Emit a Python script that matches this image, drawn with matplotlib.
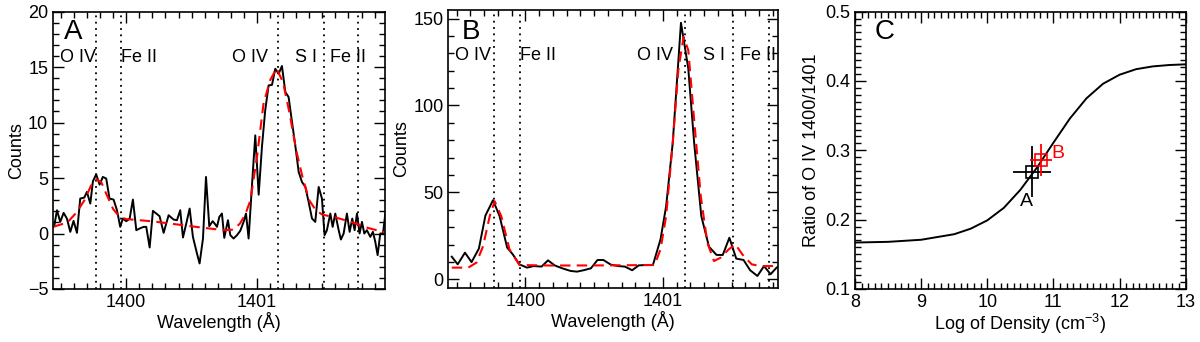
import matplotlib
matplotlib.use("Agg")
import matplotlib.pyplot as plt
import matplotlib.transforms as mtransforms
from matplotlib.ticker import MultipleLocator

plt.rcParams['font.family'] = ['Liberation Sans', 'DejaVu Sans']
plt.rcParams['font.size'] = 13
plt.rcParams['mathtext.fontset'] = 'custom'
plt.rcParams['mathtext.rm'] = 'Liberation Sans'

# Panel A: observed spectrum (black) and fit (red dashed)
wl_a = [1399.449, 1399.470, 1399.495, 1399.521, 1399.546, 1399.572, 1399.597, 1399.623,
        1399.648, 1399.679, 1399.699, 1399.725, 1399.745, 1399.770, 1399.796, 1399.821,
        1399.847, 1399.872, 1399.903, 1399.929, 1399.954, 1399.974, 1400.000, 1400.026,
        1400.051, 1400.077, 1400.102, 1400.133, 1400.153, 1400.179, 1400.204, 1400.230,
        1400.255, 1400.286, 1400.324, 1400.362, 1400.388, 1400.413, 1400.434, 1400.459,
        1400.485, 1400.510, 1400.541, 1400.561, 1400.587, 1400.610, 1400.635, 1400.661,
        1400.676, 1400.694, 1400.712, 1400.732, 1400.750, 1400.778, 1400.796, 1400.821,
        1400.847, 1400.872, 1400.898, 1400.916, 1400.936, 1400.961, 1400.987, 1401.013,
        1401.038, 1401.063, 1401.089, 1401.115, 1401.140, 1401.166, 1401.191, 1401.217,
        1401.242, 1401.268, 1401.293, 1401.319, 1401.344, 1401.370, 1401.395, 1401.421,
        1401.446, 1401.472, 1401.497, 1401.517, 1401.535, 1401.561, 1401.579, 1401.599,
        1401.625, 1401.642, 1401.663, 1401.688, 1401.709, 1401.729, 1401.747, 1401.765,
        1401.785, 1401.803, 1401.821, 1401.841, 1401.867, 1401.887, 1401.905, 1401.923,
        1401.943, 1401.964, 1401.982]
counts_a = [0.66, 2.10, 1.05, 1.86, 1.35, 0.15, 1.14, 0.06,
            3.15, 3.24, 3.75, 2.70, 4.71, 5.34, 4.41, 5.10,
            4.95, 3.15, 3.06, 2.10, 0.60, 1.35, 1.11, 1.35,
            3.06, 0.30, 0.45, 0.60, 0.60, -1.26, 2.04, 1.80,
            1.56, 0.06, 1.65, 1.26, 1.20, 2.10, -0.36, 0.90,
            2.25, -0.30, -1.80, -2.70, -0.45, 5.10, 0.66, 1.11,
            0.90, 0.60, 1.50, 1.80, -0.39, 1.20, -0.15, -0.45,
            -0.15, 0.24, 1.05, 1.80, -0.45, 4.20, 8.85, 3.50,
            7.80, 11.10, 13.35, 13.40, 14.85, 14.40, 15.10, 12.75,
            12.30, 10.05, 7.95, 5.55, 4.65, 4.20, 2.85, 1.35,
            1.05, 4.20, 3.15, -0.15, 0.30, 1.80, 0.60, 1.80,
            0.30, -0.54, 0.00, 1.80, 0.15, 1.35, 0.30, 1.80,
            0.00, 1.05, 0.00, 0.30, -0.30, 0.15, -0.75, -1.95,
            0.00, 0.00, 1.80]
fit_wl_a = [1399.44, 1399.55, 1399.62, 1399.68, 1399.73, 1399.77, 1399.81, 1399.85,
            1399.90, 1399.95, 1400.00, 1400.20, 1400.40, 1400.60, 1400.75, 1400.82,
            1400.87, 1400.91, 1400.95, 1401.00, 1401.05, 1401.10, 1401.15, 1401.20,
            1401.25, 1401.30, 1401.35, 1401.40, 1401.45, 1401.50, 1401.60, 1401.72,
            1401.85, 1401.98]
fit_a = [0.6, 1.0, 1.9, 3.0, 4.3, 4.9, 4.6, 3.5,
         2.2, 1.5, 1.3, 1.1, 0.8, 0.5, 0.3, 0.35,
         0.9, 1.7, 3.0, 6.9, 11.7, 13.8, 14.9, 13.6,
         10.8, 7.5, 5.0, 3.0, 2.1, 1.7, 1.45, 1.05,
         0.5, 0.1]

# Panel B: binned spectrum and fit
wl_b = [1399.465, 1399.508, 1399.561, 1399.609, 1399.662, 1399.710, 1399.765, 1399.813,
        1399.868, 1399.909, 1399.957, 1400.012, 1400.060, 1400.118, 1400.165, 1400.213,
        1400.269, 1400.329, 1400.376, 1400.424, 1400.477, 1400.525, 1400.568, 1400.622,
        1400.676, 1400.724, 1400.777, 1400.825, 1400.873, 1400.928, 1400.983, 1401.024,
        1401.072, 1401.132, 1401.185, 1401.228, 1401.280, 1401.336, 1401.391, 1401.436,
        1401.484, 1401.534, 1401.587, 1401.635, 1401.688, 1401.736, 1401.784, 1401.827,
        1401.845]
counts_b = [13.0, 8.6, 15.3, 9.9, 17.6, 36.7, 45.5, 36.3,
            18.2, 14.3, 8.6, 6.7, 7.6, 7.3, 10.9, 8.0,
            6.3, 4.8, 4.4, 5.2, 6.3, 11.1, 11.1, 8.4,
            7.6, 7.3, 5.2, 8.0, 8.2, 8.2, 22.9, 42.0,
            78.4, 147.6, 121.4, 78.4, 36.3, 18.7, 14.0, 14.0,
            23.9, 11.9, 11.1, 5.2, 1.9, 7.6, 2.9, 6.7,
            7.5]
fit_wl_b = [1399.465, 1399.585, 1399.645, 1399.693, 1399.741, 1399.777, 1399.825, 1399.885,
            1399.957, 1400.200, 1400.600, 1400.940, 1400.983, 1401.024, 1401.072, 1401.113,
            1401.151, 1401.185, 1401.228, 1401.276, 1401.324, 1401.372, 1401.420, 1401.479,
            1401.527, 1401.587, 1401.647, 1401.707, 1401.845]
fit_b = [6.7, 6.7, 9.6, 19.1, 36.3, 44.9, 36.3, 17.2,
         8.2, 7.9, 8.0, 8.2, 17.2, 36.3, 78.4, 120.5,
         139.5, 131.9, 91.7, 47.8, 21.0, 10.5, 12.4, 17.2,
         20.1, 13.4, 8.6, 7.6, 7.6]

# line identifications
line_wl = [1399.77, 1399.96, 1401.16, 1401.51, 1401.77]
line_names = ["O IV", "Fe II", "O IV", "S I", "Fe II"]
name_x = [1399.49, 1399.96, 1400.81, 1401.29, 1401.56]

# Panel C: theoretical ratio vs density
log_n = [8.0, 8.5, 9.0, 9.5, 9.75, 10.0, 10.25, 10.5, 10.75, 11.0, 11.25,
         11.5, 11.75, 12.0, 12.25, 12.5, 12.75, 13.0]
ratio = [0.167, 0.168, 0.171, 0.179, 0.187, 0.199, 0.217, 0.243, 0.275, 0.311, 0.346,
         0.375, 0.396, 0.409, 0.417, 0.421, 0.423, 0.424]
obs_n = [10.68, 10.81]
obs_ratio = [0.269, 0.286]
obs_nerr = [0.29, 0.17]
obs_rerr = [0.037, 0.023]
obs_names = ["A", "B"]
obs_colors = ["black", "red"]


def style_axes(ax):
    ax.tick_params(which='both', direction='in', top=True, right=True, width=1.0)
    ax.tick_params(which='major', length=8, labelsize=13)
    ax.tick_params(which='minor', length=4)
    for s in ax.spines.values():
        s.set_linewidth(1.2)


fig = plt.figure(figsize=(12, 3.42), dpi=100)

ax_a = fig.add_axes([0.0442, 0.155, 0.2767, 0.811])
ax_b = fig.add_axes([0.3736, 0.158, 0.275, 0.813])
ax_c = fig.add_axes([0.7125, 0.155, 0.2756, 0.811])

for ax, wl, cts, fwl, fit, ylim, ymaj, ymin, letter, lpos in [
        (ax_a, wl_a, counts_a, fit_wl_a, fit_a, (-5, 20), 5, 1, "A", (0.06, 0.925)),
        (ax_b, wl_b, counts_b, fit_wl_b, fit_b, (-5, 155), 50, 10, "B", (0.068, 0.92))]:
    for w in line_wl:
        ax.axvline(w, color='black', linestyle=(0, (1, 2.5)), linewidth=1.3)
    ax.plot(wl, cts, color='black', linewidth=1.4)
    ax.plot(fwl, fit, color='red', linestyle=(0, (5, 3)), linewidth=1.5)
    trans = mtransforms.blended_transform_factory(ax.transData, ax.transAxes)
    for nx, nm in zip(name_x, line_names):
        ax.text(nx, 0.835, nm, transform=trans, ha='left', va='center', fontsize=13)
    ax.text(lpos[0], lpos[1], letter, transform=ax.transAxes, ha='center', va='center',
            fontsize=20)
    ax.set_xlim(1399.44, 1401.98 if ax is ax_a else 1401.84)
    ax.set_ylim(*ylim)
    ax.xaxis.set_major_locator(MultipleLocator(1))
    ax.xaxis.set_minor_locator(MultipleLocator(0.1))
    ax.yaxis.set_major_locator(MultipleLocator(ymaj))
    ax.yaxis.set_minor_locator(MultipleLocator(ymin))
    ax.set_xlabel("Wavelength (Å)", fontsize=13, labelpad=1)
    ax.set_ylabel("Counts", fontsize=13, labelpad=2)
    style_axes(ax)

ax_a.set_yticks([-5, 0, 5, 10, 15, 20])
ax_a.set_yticklabels(["\u22125", "0", "5", "10", "15", "20"])

# Panel C
ax_c.plot(log_n, ratio, color='black', linewidth=1.4)
for n, r, ne, re, nm, col in zip(obs_n, obs_ratio, obs_nerr, obs_rerr, obs_names, obs_colors):
    ax_c.errorbar(n, r, xerr=ne, yerr=re, fmt='s', mfc='none', mec=col, ecolor=col,
                  ms=8, mew=1.2, elinewidth=1.3, capsize=0)
ax_c.text(obs_n[0] - 0.09, obs_ratio[0] - 0.043, obs_names[0], color='black',
          ha='center', va='center', fontsize=14)
ax_c.text(obs_n[1] + 0.26, obs_ratio[1] + 0.01, obs_names[1], color='red',
          ha='center', va='center', fontsize=14)
ax_c.text(0.09, 0.927, "C", transform=ax_c.transAxes, ha='center', va='center', fontsize=20)
ax_c.set_xlim(8, 13)
ax_c.set_ylim(0.1, 0.5)
ax_c.xaxis.set_major_locator(MultipleLocator(1))
ax_c.xaxis.set_minor_locator(MultipleLocator(0.1))
ax_c.yaxis.set_major_locator(MultipleLocator(0.1))
ax_c.yaxis.set_minor_locator(MultipleLocator(0.01))
ax_c.set_xlabel("Log of Density (cm$^{-3}$)", fontsize=13, labelpad=1)
ax_c.set_ylabel("Ratio of O IV 1400/1401", fontsize=13, labelpad=4)
style_axes(ax_c)

fig.savefig("out.png", dpi=100)
